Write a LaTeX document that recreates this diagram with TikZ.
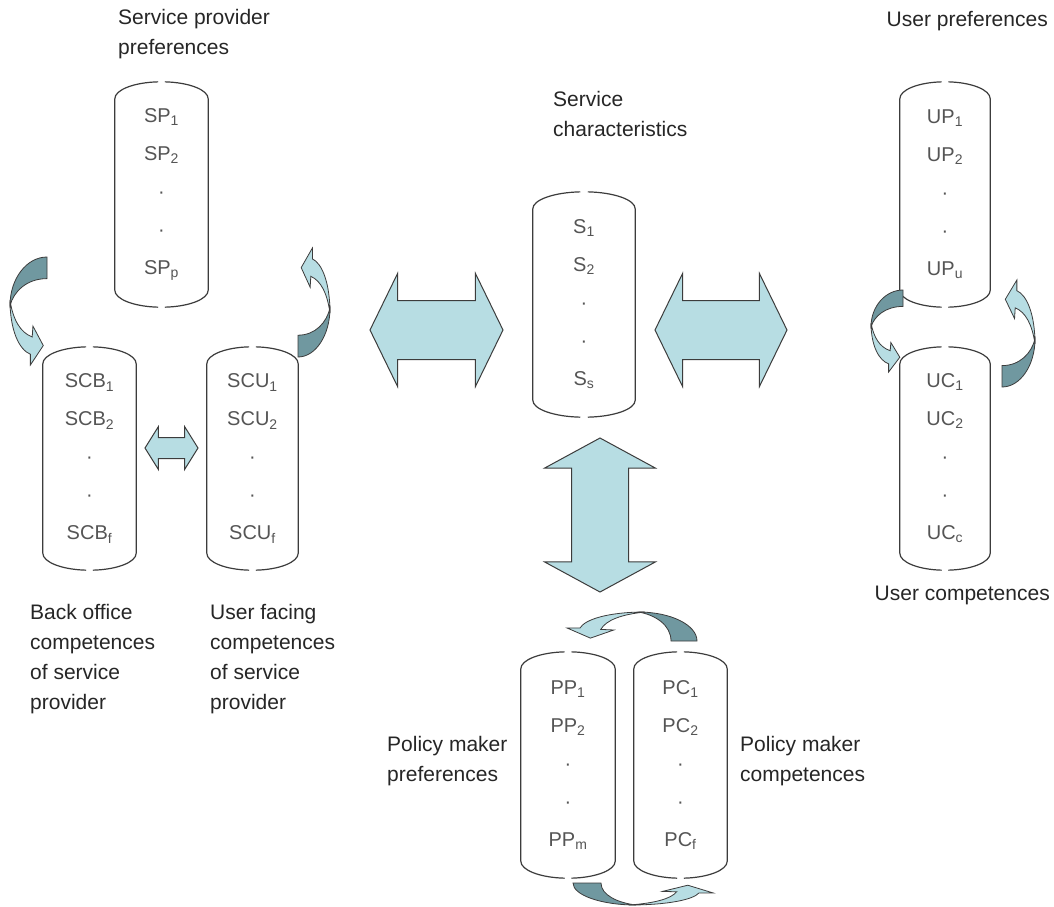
\documentclass[tikz,border=0pt]{standalone}
\usepackage{xcolor}
\usepackage{fontspec}
\setmainfont{Liberation Sans}
\usetikzlibrary{shapes.arrows,positioning,calc}

\definecolor{arrowlight}{RGB}{183,221,227}
\definecolor{arrowdark}{RGB}{112,152,160}
\definecolor{itemgray}{RGB}{85,85,85}
\definecolor{linegray}{RGB}{60,60,60}

\tikzset{
  cylbox/.style={minimum height=225pt, minimum width=93pt, inner sep=0pt,
    text=itemgray, align=center, font=\fontsize{20}{38}\selectfont},
  cylline/.style={draw=linegray, line width=1.2pt},
  tagtext/.style={inner sep=0pt, anchor=north west, align=left,
    font=\fontsize{21}{30}\selectfont, text=black!85},
  blockarrow/.style={double arrow, draw=linegray, fill=arrowlight,
    line width=1pt, inner xsep=0pt, double arrow head indent=0pt},
  curvdark/.style={fill=arrowdark, draw=linegray, line width=0.8pt},
  curvlight/.style={fill=arrowlight, draw=linegray, line width=0.8pt}
}

% outline of a cylinder node (name, half width)
\newcommand{\cylshape}[2]{%
  \draw[cylline]
    ([yshift=-17pt]#1.north east) arc[start angle=0, end angle=-86, x radius=#2, y radius=17]
    ([yshift=-17pt]#1.north east) -- ([yshift=17pt]#1.south east)
      arc[start angle=0, end angle=86, x radius=#2, y radius=17]
    ([yshift=17pt]#1.south west) arc[start angle=180, end angle=94, x radius=#2, y radius=17]
    ([yshift=17pt]#1.south west) -- ([yshift=-17pt]#1.north west)
      arc[start angle=180, end angle=266, x radius=#2, y radius=17];
}

% bent arrow, dark tail and light head
\newcommand{\curvarrow}[1]{%
  \begin{scope}[#1]
    \path[curvdark] (0,0) .. controls (-0.55,0) and (-1,0.2) .. (-1,0.45)
      .. controls (-0.9,0.32) and (-0.55,0.2) .. (0,0.2) -- cycle;
    \path[curvlight] (-1,0.4) .. controls (-1,0.68) and (-0.75,0.86) .. (-0.45,0.9)
      -- (-0.45,1) -- (-0.1,0.82) -- (-0.38,0.64) -- (-0.4,0.74)
      .. controls (-0.72,0.7) and (-0.92,0.58) .. (-1,0.4) -- cycle;
  \end{scope}
}

\begin{document}
\begin{tikzpicture}[x=1pt, y=-1pt]

  % page
  \useasboundingbox (0,0) rectangle (1054,906);
  \fill[white] (0,0) rectangle (1054,906);

  % service provider
  \node[cylbox] (sp) at (161.5,194.5) {SP\textsubscript{1}\\SP\textsubscript{2}\\·\\·\\SP\textsubscript{p}};
  \node[cylbox, minimum height=223pt] (scb) at (89.5,458.5) {SCB\textsubscript{1}\\SCB\textsubscript{2}\\·\\·\\SCB\textsubscript{f}};
  \node[cylbox, minimum height=223pt, minimum width=91pt] (scu) at (252.5,458.5) {SCU\textsubscript{1}\\SCU\textsubscript{2}\\·\\·\\SCU\textsubscript{f}};
  \cylshape{sp}{46.5}
  \cylshape{scb}{46.5}
  \cylshape{scu}{45.5}

  % service
  \node[cylbox, minimum width=102pt] (s) at (584,304.5) {S\textsubscript{1}\\S\textsubscript{2}\\·\\·\\S\textsubscript{s}};
  \cylshape{s}{51}

  % user
  \node[cylbox, minimum width=90pt] (up) at (945,194.5) {UP\textsubscript{1}\\UP\textsubscript{2}\\·\\·\\UP\textsubscript{u}};
  \node[cylbox, minimum width=90pt, minimum height=223pt] (uc) at (945,458.5) {UC\textsubscript{1}\\UC\textsubscript{2}\\·\\·\\UC\textsubscript{c}};
  \cylshape{up}{45}
  \cylshape{uc}{45}

  % policy maker
  \node[cylbox, minimum width=94pt, minimum height=226pt] (pp) at (568,765) {PP\textsubscript{1}\\PP\textsubscript{2}\\·\\·\\PP\textsubscript{m}};
  \node[cylbox, minimum height=226pt] (pc) at (680.5,765) {PC\textsubscript{1}\\PC\textsubscript{2}\\·\\·\\PC\textsubscript{f}};
  \cylshape{pp}{47}
  \cylshape{pc}{46.5}

  % block arrows
  \node[blockarrow, minimum height=133pt, inner ysep=29pt,
    double arrow head extend=27pt, double arrow tip angle=128] (left) at (436.5,330) {};
  \node[blockarrow, minimum height=132pt, inner ysep=29pt,
    double arrow head extend=27pt, double arrow tip angle=128] (right) at (721,330) {};
  \node[blockarrow, minimum height=154pt, inner ysep=28pt, rotate=90,
    double arrow head extend=27pt, double arrow tip angle=123] (down) at (600,515) {};
  \node[blockarrow, minimum height=53pt, inner ysep=10pt,
    double arrow head extend=11pt, double arrow tip angle=116] (small) at (171.5,448) {};

  % bent arrows
  \curvarrow{shift={(47,257)}, xscale=37, yscale=108}
  \curvarrow{shift={(298,357)}, rotate=180, xscale=32, yscale=109}
  \curvarrow{shift={(903,290)}, xscale=32, yscale=82}
  \curvarrow{shift={(1002,387)}, rotate=180, xscale=33, yscale=107}
  \curvarrow{shift={(697,641)}, rotate=-90, xscale=29, yscale=130}
  \curvarrow{shift={(573,883)}, rotate=90, xscale=22, yscale=140}

  % titles
  \node[tagtext] (sptag) at (118,9) {Service provider\\preferences};
  \node[tagtext] (stag) at (553,91) {Service\\characteristics};
  \node[tagtext, anchor=north east] (uptag) at (1048,11) {User preferences};
  \node[tagtext, anchor=north east] (uctag) at (1050,586) {User competences};
  \node[tagtext] (scbtag) at (30,604) {Back office\\competences\\of service\\provider};
  \node[tagtext] (scutag) at (210,604) {User facing\\competences\\of service\\provider};
  \node[tagtext] (pptag) at (387,736) {Policy maker\\preferences};
  \node[tagtext] (pctag) at (740,736) {Policy maker\\competences};

\end{tikzpicture}
\end{document}
